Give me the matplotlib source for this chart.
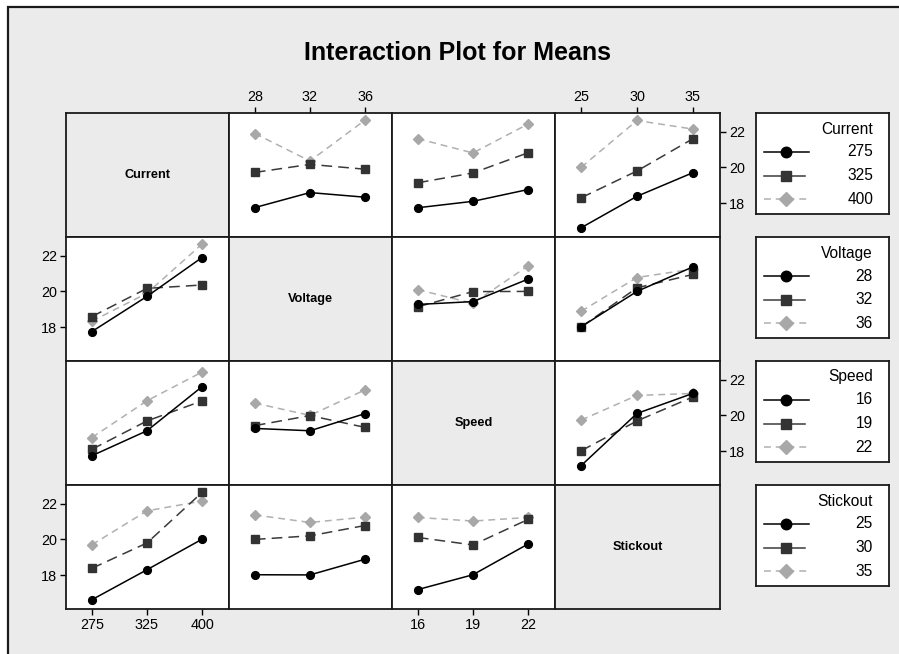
import numpy as np
import matplotlib
matplotlib.use("Agg")
import matplotlib.pyplot as plt
from matplotlib.patches import Rectangle

plt.rcParams['font.family'] = ['Liberation Sans', 'DejaVu Sans']

# factors and their levels
factors = ["Current", "Voltage", "Speed", "Stickout"]
levels = [["275", "325", "400"],
          ["28", "32", "36"],
          ["16", "19", "22"],
          ["25", "30", "35"]]

# two-way means, rows = first factor level, cols = second factor level
current_voltage = [[17.75, 18.59, 18.33],
                   [19.72, 20.17, 19.90],
                   [21.90, 20.36, 22.65]]
current_speed = [[17.74, 18.10, 18.76],
                 [19.14, 19.69, 20.82],
                 [21.61, 20.81, 22.43]]
current_stickout = [[16.62, 18.38, 19.70],
                    [18.30, 19.80, 21.60],
                    [20.01, 22.63, 22.15]]
voltage_speed = [[19.27, 19.43, 20.69],
                 [19.14, 19.99, 20.00],
                 [20.10, 19.33, 21.43]]
voltage_stickout = [[18.02, 20.00, 21.37],
                    [18.01, 20.20, 20.95],
                    [18.89, 20.78, 21.25]]
speed_stickout = [[17.19, 20.11, 21.23],
                  [18.02, 19.69, 21.03],
                  [19.74, 21.12, 21.23]]

tables = {(0, 1): current_voltage, (0, 2): current_speed, (0, 3): current_stickout,
          (1, 2): voltage_speed, (1, 3): voltage_stickout, (2, 3): speed_stickout}

yticks = [18, 20, 22]

styles = [dict(color="black", ls="-", marker="o", ms=5.6, mfc="black", mec="black"),
          dict(color="#3a3a3a", ls=(0, (7, 4)), marker="s", ms=5.2, mfc="#333333", mec="#333333"),
          dict(color="#b0b0b0", ls=(0, (4.5, 3.2)), marker="D", ms=5.4, mfc="#a8a8a8", mec="#a8a8a8")]

W, H = 899, 654
fig = plt.figure(figsize=(W / 100, H / 100), dpi=100)
fig.patch.set_facecolor("white")

def box(x0, y0, w, h):
    # pixel box (top-left origin) -> figure fraction rect
    return [x0 / W, 1 - (y0 + h) / H, w / W, h / H]

# grey frame around everything (runs off the right and bottom edges)
fig.patches.append(Rectangle((8 / W, -0.05), 1.2, 1 - 7 / H + 0.05, transform=fig.transFigure,
                             facecolor="#ebebeb", edgecolor="#1a1a1a", lw=1.6, zorder=-10))

fig.text(457 / W, 1 - 53 / H, "Interaction Plot for Means", ha="center", va="center",
         fontsize=18, fontweight="bold")

col_x = [66, 229, 392, 555]
col_w = [163, 163, 163, 165]
row_y = [113, 237, 361, 485]
row_h = 124

for r in range(4):
    for c in range(4):
        ax = fig.add_axes(box(col_x[c], row_y[r], col_w[c], row_h))
        ax.set_xlim(0.53, 3.49)
        ax.set_ylim(16.1, 23.05)
        for s in ax.spines.values():
            s.set_linewidth(1.3)
            s.set_color("#1a1a1a")
        ax.tick_params(which="both", direction="out", length=4.3, width=1,
                       labelsize=10.4, pad=2, colors="black")
        ax.set_xticks([1, 2, 3])
        ax.set_yticks(yticks)
        ax.tick_params(top=False, bottom=False, left=False, right=False,
                       labeltop=False, labelbottom=False, labelleft=False, labelright=False)
        ax.set_xticklabels(levels[c])
        ax.set_yticklabels([str(v) for v in yticks])

        if r == c:
            ax.set_facecolor("#ebebeb")
            ax.text(0.5, 0.5, factors[r], transform=ax.transAxes, ha="center", va="center",
                    fontsize=9.2, fontweight="bold")
            continue
        ax.set_facecolor("white")
        if r < c:
            data = np.array(tables[(r, c)])
        else:
            data = np.array(tables[(c, r)]).T
        x = np.arange(1, 4)
        for i in range(3):
            ax.plot(x, data[i], lw=1.1, clip_on=False, zorder=3 - i, **styles[i])

        # outer tick labels like a matrix plot
        if r == 0 and c in (1, 3):
            ax.tick_params(top=True, labeltop=True)
        if r == 3 and c in (0, 2):
            ax.tick_params(bottom=True, labelbottom=True)
        if c == 0 and r in (1, 3):
            ax.tick_params(left=True, labelleft=True)
        if c == 3 and r in (0, 2):
            ax.tick_params(right=True, labelright=True)

# one legend box per row factor
for r in range(4):
    lg = fig.add_axes(box(756, row_y[r], 133, 101))
    lg.set_xlim(0, 133)
    lg.set_ylim(101, 0)
    lg.set_xticks([])
    lg.set_yticks([])
    lg.set_facecolor("white")
    for s in lg.spines.values():
        s.set_linewidth(1.3)
        s.set_color("#1a1a1a")
    lg.text(117, 16, factors[r], ha="right", va="center", fontsize=11.2)
    ys = [39, 62.5, 86]
    ends = [53, 49, 53]
    sample_ls = ["-", "-", (0, (4.5, 3.2))]
    for i in range(3):
        st = styles[i]
        lg.plot([8, ends[i]], [ys[i], ys[i]], lw=1.1, color=st["color"], ls=sample_ls[i])
        lg.plot([30], [ys[i]], ls="none", marker=st["marker"], ms=st["ms"] * 1.35,
                mfc=st["mfc"], mec=st["mec"])
        lg.text(117, ys[i], levels[r][i], ha="right", va="center", fontsize=11.2)

fig.savefig("out.png", dpi=100, facecolor=fig.get_facecolor())
